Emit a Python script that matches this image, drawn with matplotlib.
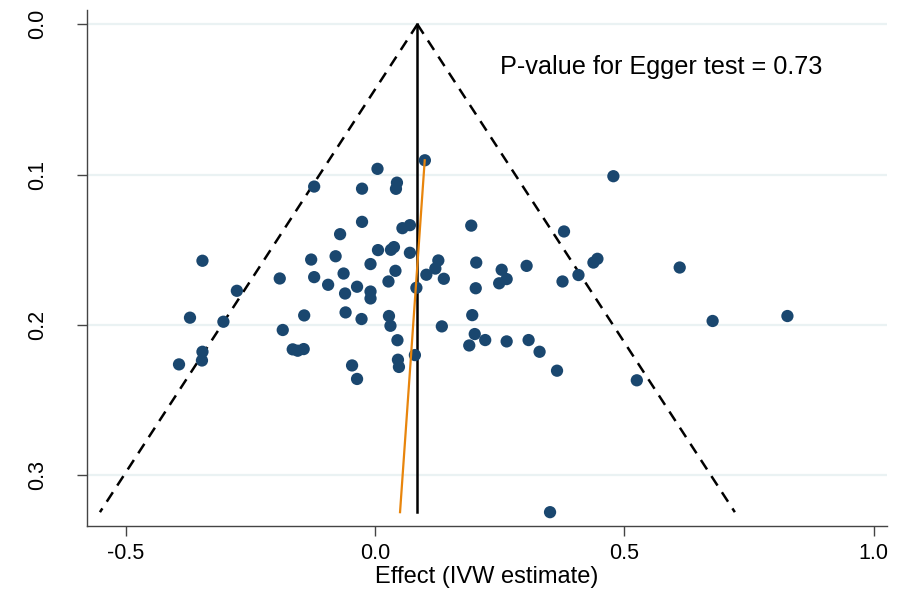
import matplotlib
matplotlib.use("Agg")
import matplotlib.pyplot as plt
import numpy as np

plt.rcParams['font.family'] = ['Liberation Sans', 'DejaVu Sans']

# per-variant IVW estimates and their standard errors
effect = [0.100, 0.005, -0.122, -0.026, 0.044, 0.042, -0.026, -0.070, 0.055, 0.070,
          0.193, -0.346, -0.128, -0.079, 0.006, 0.032, 0.038, 0.070, -0.009, 0.041,
          0.127, 0.203, 0.304, -0.191, -0.122, -0.094, -0.063, -0.036, -0.060, -0.009,
          -0.009, 0.027, 0.103, 0.121, 0.138, 0.083, 0.202, 0.249, 0.264, 0.254,
          -0.277, -0.371, -0.304, -0.142, -0.059, -0.027, 0.028, 0.031, 0.195, 0.134,
          -0.185, -0.165, -0.155, -0.143, 0.045, 0.200, 0.189, 0.221, 0.264, 0.308,
          0.330, 0.365, -0.346, -0.347, -0.393, -0.046, -0.036, 0.080, 0.046, 0.048,
          0.478, 0.379, 0.376, 0.408, 0.438, 0.446, 0.611, 0.677, 0.827, 0.525,
          0.351]
se = [0.0905, 0.0962, 0.1080, 0.1094, 0.1054, 0.1095, 0.1315, 0.1397, 0.1357, 0.1337,
      0.1340, 0.1574, 0.1566, 0.1544, 0.1503, 0.1501, 0.1483, 0.1521, 0.1596, 0.1641,
      0.1572, 0.1586, 0.1608, 0.1692, 0.1683, 0.1734, 0.1659, 0.1747, 0.1792, 0.1779,
      0.1825, 0.1712, 0.1667, 0.1626, 0.1694, 0.1754, 0.1757, 0.1724, 0.1696, 0.1634,
      0.1774, 0.1953, 0.1980, 0.1938, 0.1918, 0.1962, 0.1942, 0.2007, 0.1936, 0.2011,
      0.2035, 0.2164, 0.2173, 0.2162, 0.2103, 0.2062, 0.2138, 0.2102, 0.2111, 0.2102,
      0.2180, 0.2306, 0.2180, 0.2238, 0.2264, 0.2271, 0.2361, 0.2202, 0.2233, 0.2281,
      0.1011, 0.1379, 0.1712, 0.1669, 0.1586, 0.1561, 0.1619, 0.1975, 0.1942, 0.2370,
      0.3248]

ivw = 0.085
egger_effect = [0.0997, 0.0502]   # Egger fit at smallest / largest SE
p_egger = 0.73

navy = '#1a476f'
se_max = max(se)
se_line = np.array([0, se_max])

fig = plt.figure(figsize=(9.08, 5.94), dpi=100)
ax = fig.add_axes([0.0961, 0.1145, 0.8804, 0.8685])

for y in [0.0, 0.1, 0.2, 0.3]:
    ax.axhline(y, color='#eaf2f3', lw=1.6, zorder=0)

# pseudo 95% confidence limits
ax.plot(ivw - 1.96 * se_line, se_line, color='black', lw=1.8, ls=(0, (4.5, 3.2)), zorder=2)
ax.plot(ivw + 1.96 * se_line, se_line, color='black', lw=1.8, ls=(0, (4.5, 3.2)), zorder=2)
ax.plot([ivw, ivw], se_line, color='black', lw=1.8, zorder=2)

ax.scatter(effect, se, s=78, color=navy, edgecolors='none', zorder=3)
ax.plot(egger_effect, [min(se), se_max], color='#e8850c', lw=1.6, zorder=4)

ax.text(0.251, 0.0287, f"P-value for Egger test = {p_egger}", fontsize=18.2,
        ha='left', va='center')

ax.set_xlim(-0.577, 1.026)
ax.set_ylim(0.334, -0.0095)
ax.set_xticks([-0.5, 0.0, 0.5, 1.0])
ax.set_xticklabels(['-0.5', '0.0', '0.5', '1.0'])
ax.set_yticks([0.0, 0.1, 0.2, 0.3])
ax.set_yticklabels(['0.0', '0.1', '0.2', '0.3'], rotation=90, va='center')
ax.tick_params(axis='x', labelsize=15.5, length=7, width=1, color='#444444', pad=5)
ax.tick_params(axis='y', labelsize=15.5, length=7, width=1, color='#444444', pad=21)
ax.set_xlabel("Effect (IVW estimate)", fontsize=17, labelpad=2)

for side in ['top', 'right']:
    ax.spines[side].set_visible(False)
for side in ['left', 'bottom']:
    ax.spines[side].set_color('#444444')
    ax.spines[side].set_linewidth(1)

fig.savefig('out.png', dpi=100)
